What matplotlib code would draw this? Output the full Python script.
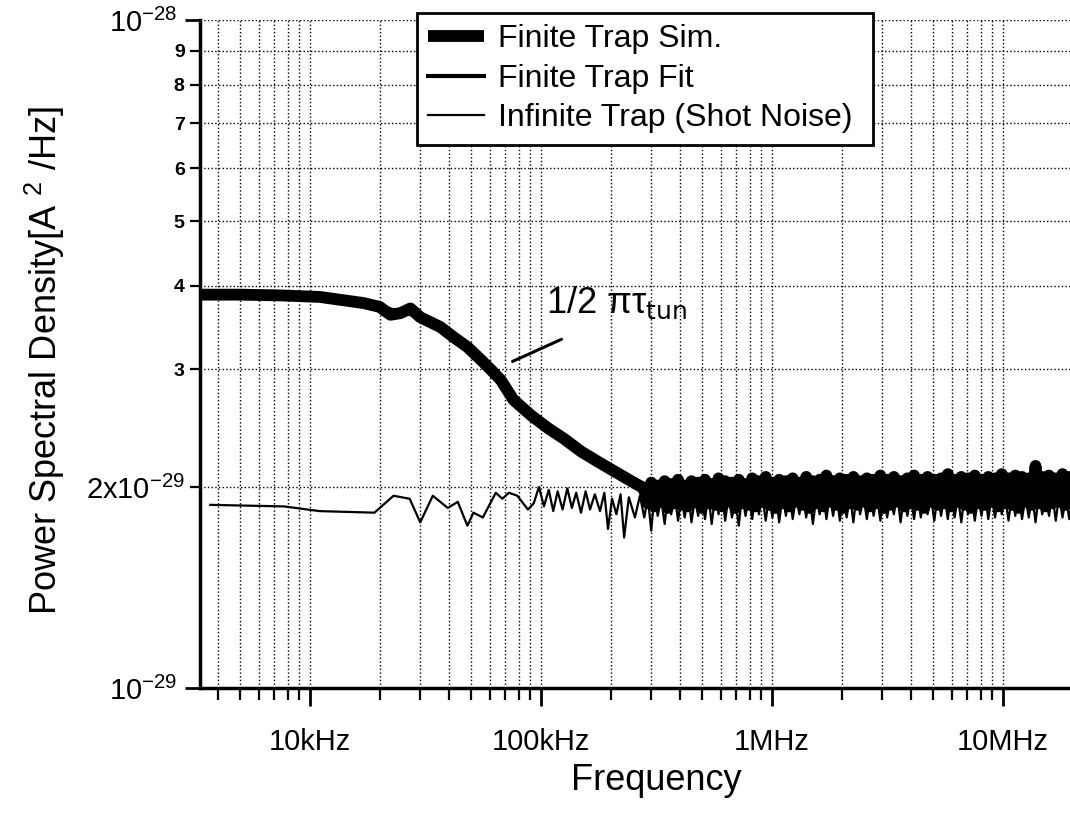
import matplotlib
matplotlib.use("Agg")
import matplotlib.pyplot as plt
from matplotlib.ticker import LogLocator, NullFormatter, FixedLocator

plt.rcParams['font.family'] = ['Liberation Sans', 'DejaVu Sans']
plt.rcParams['mathtext.default'] = 'regular'

# Finite trap simulation (smooth part), kHz and units of 1e-29 A^2/Hz
sim_khz = [3.33, 5, 7.4, 11, 17, 20, 22.3, 24.6, 27.2, 30, 36.7, 41.9, 48, 54.9,
           61, 67, 76, 90.5, 107, 126, 149, 177, 208, 240, 272]
sim_val = [3.88, 3.88, 3.87, 3.85, 3.77, 3.72, 3.62, 3.64, 3.70, 3.59, 3.47, 3.35,
           3.24, 3.10, 2.99, 2.89, 2.70, 2.56, 2.45, 2.36, 2.26, 2.18, 2.11, 2.05, 2.00]

# Noisy tail shared by the simulation and the shot-noise curve (kHz)
tail_khz = [280, 290, 300, 310, 320, 331, 343, 354,
            366, 379, 392, 405, 419, 434, 448, 464,
            479, 496, 513, 530, 548, 567, 587, 607,
            627, 649, 671, 694, 718, 742, 768, 794,
            821, 849, 878, 908, 939, 971, 1004, 1039,
            1074, 1111, 1149, 1188, 1229, 1271, 1314, 1359,
            1406, 1454, 1503, 1555, 1608, 1663, 1720, 1778,
            1839, 1902, 1967, 2034, 2104, 2176, 2250, 2327,
            2407, 2489, 2574, 2662, 2753, 2847, 2945, 3046,
            3150, 3257, 3369, 3484, 3603, 3726, 3854, 3985,
            4122, 4263, 4408, 4559, 4715, 4876, 5043, 5215,
            5394, 5578, 5769, 5966, 6170, 6381, 6599, 6825,
            7058, 7300, 7549, 7807, 8074, 8351, 8636, 8931,
            9237, 9553, 9879, 10217, 10566, 10928, 11301, 11688,
            12087, 12500, 12928, 13370, 13827, 14300, 14789, 15295,
            15818, 16359, 16918, 17497, 18095, 18714, 19354, 20016]
sim_tail = [1.98, 1.89, 2.03, 1.87, 2.01, 1.90, 2.04, 1.86,
            2.02, 1.89, 2.05, 1.88, 2.01, 1.87, 2.04, 1.90,
            2.03, 1.86, 2.05, 1.89, 2.02, 1.88, 2.06, 1.87,
            2.04, 1.90, 2.03, 1.86, 2.05, 1.89, 2.02, 1.88,
            2.06, 1.87, 2.04, 1.90, 2.07, 1.88, 2.03, 1.86,
            2.05, 1.89, 2.04, 1.87, 2.06, 1.90, 2.03, 1.88,
            2.07, 1.86, 2.04, 1.89, 2.05, 1.87, 2.08, 1.90,
            2.04, 1.88, 2.06, 1.86, 2.05, 1.89, 2.07, 1.88,
            2.04, 1.90, 2.06, 1.87, 2.05, 1.89, 2.08, 1.86,
            2.05, 1.88, 2.07, 1.90, 2.04, 1.87, 2.06, 1.89,
            2.08, 1.88, 2.05, 1.86, 2.07, 1.90, 2.05, 1.88,
            2.06, 1.89, 2.09, 1.87, 2.05, 1.90, 2.07, 1.88,
            2.06, 1.86, 2.08, 1.89, 2.05, 1.88, 2.07, 1.90,
            2.06, 1.87, 2.09, 1.89, 2.06, 1.88, 2.08, 1.86,
            2.07, 1.90, 2.06, 1.88, 2.15, 1.89, 2.07, 1.87,
            2.08, 1.89, 2.06, 1.90, 2.09, 1.88, 2.07, 1.90]

# Infinite trap (shot noise)
shot_khz = [3.7, 7.7, 11, 19, 23, 27, 30, 34, 39.5, 43.6, 48, 51, 56, 63.7, 68, 72.6,
            79, 87.8, 93, 98, 103, 108, 113, 118, 124, 130, 136, 142, 149, 156, 163,
            171, 180, 188, 195, 203, 212, 221, 229, 240, 255, 268]
shot_val = [1.88, 1.87, 1.84, 1.83, 1.94, 1.92, 1.77, 1.94, 1.86, 1.90, 1.75, 1.83,
            1.80, 1.96, 1.92, 1.96, 1.94, 1.85, 1.89, 2.00, 1.87, 1.98, 1.84, 1.97,
            1.85, 1.99, 1.86, 1.96, 1.83, 1.97, 1.85, 1.95, 1.84, 1.96, 1.73, 1.92,
            1.82, 1.95, 1.68, 1.93, 1.80, 1.94]
shot_tail = [1.80, 1.93, 1.72, 1.95, 1.81, 1.92, 1.76, 1.94,
             1.82, 1.95, 1.78, 1.93, 1.80, 1.96, 1.77, 1.92,
             1.81, 1.94, 1.79, 1.95, 1.76, 1.93, 1.82, 1.96,
             1.78, 1.94, 1.80, 1.92, 1.75, 1.95, 1.81, 1.93,
             1.79, 1.96, 1.82, 1.94, 1.78, 1.93, 1.80, 1.95,
             1.77, 1.94, 1.81, 1.96, 1.79, 1.93, 1.82, 1.95,
             1.80, 1.94, 1.76, 1.93, 1.82, 1.96, 1.79, 1.94,
             1.81, 1.95, 1.78, 1.93, 1.80, 1.94, 1.77, 1.96,
             1.82, 1.93, 1.79, 1.95, 1.81, 1.94, 1.78, 1.96,
             1.80, 1.93, 1.82, 1.95, 1.77, 1.94, 1.81, 1.93,
             1.79, 1.96, 1.80, 1.94, 1.82, 1.93, 1.78, 1.95,
             1.81, 1.94, 1.79, 1.96, 1.80, 1.93, 1.77, 1.95,
             1.82, 1.94, 1.78, 1.93, 1.81, 1.96, 1.79, 1.94,
             1.80, 1.95, 1.82, 1.93, 1.78, 1.94, 1.81, 1.96,
             1.79, 1.93, 1.80, 1.95, 1.77, 1.94, 1.82, 1.93,
             1.81, 1.95, 1.78, 1.94, 1.80, 1.93, 1.79, 1.95]

# Finite trap fit (Lorentzian)
fit_khz = [3.3, 5, 10, 15, 20, 30, 40, 50, 60, 70, 80, 100, 120, 150, 200, 300,
           500, 1000, 20000]
fit_val = [3.87, 3.86, 3.83, 3.78, 3.72, 3.60, 3.43, 3.24, 3.03, 2.86, 2.68, 2.50,
           2.39, 2.26, 2.12, 2.00, 1.97, 1.955, 1.95]

x_ticks = [1e4, 1e5, 1e6, 1e7]
x_labels = ['10kHz', '100kHz', '1MHz', '10MHz']
y_minor = [2e-29, 3e-29, 4e-29, 5e-29, 6e-29, 7e-29, 8e-29, 9e-29]
y_minor_labels = ['2x10$^{-29}$', '3', '4', '5', '6', '7', '8', '9']

fig = plt.figure(figsize=(10.7, 8.16), dpi=100)
ax = fig.add_axes([200 / 1070, 1 - 688 / 816, 870 / 1070, 668 / 816])
ax.set_xscale('log')
ax.set_yscale('log')

k = 1e3
s = 1e-29
f_sim = [f * k for f in sim_khz + tail_khz]
p_sim = [v * s for v in sim_val + sim_tail]
f_shot = [f * k for f in shot_khz + tail_khz]
p_shot = [v * s for v in shot_val + shot_tail]

l_sim, = ax.plot(f_sim, p_sim, color='black', lw=8.5, solid_joinstyle='round',
                 solid_capstyle='butt', label='Finite Trap Sim.', zorder=3)
l_fit, = ax.plot([f * k for f in fit_khz], [v * s for v in fit_val], color='black',
                 lw=3, label='Finite Trap Fit', zorder=4)
l_shot, = ax.plot(f_shot, p_shot, color='black', lw=1.6,
                  label='Infinite Trap (Shot Noise) ', zorder=5)

ax.set_xlim(3.34e3, 1.95e7)
ax.set_ylim(1e-29, 1e-28)

# x axis ticks
ax.xaxis.set_major_locator(FixedLocator(x_ticks))
ax.set_xticklabels(x_labels)
ax.xaxis.set_minor_locator(LogLocator(base=10, subs=[2, 3, 4, 5, 6, 7, 8, 9], numticks=20))
ax.xaxis.set_minor_formatter(NullFormatter())
ax.tick_params(axis='x', which='major', direction='out', length=13, width=2,
               labelsize=21, pad=16)
ax.tick_params(axis='x', which='minor', direction='out', length=8.5, width=1.6)

# y axis ticks
ax.set_yticks([1e-29, 1e-28], labels=['$10^{-29}$', '$10^{-28}$'])
ax.set_yticks(y_minor, labels=y_minor_labels, minor=True)
ax.tick_params(axis='y', which='major', direction='out', length=11, width=2,
               labelsize=21, pad=5)
ax.tick_params(axis='y', which='minor', direction='out', length=7, width=1.6,
               labelsize=14, pad=4)
for t in ax.get_yticklabels(minor=True):
    if t.get_text().startswith('2x'):
        t.set_fontsize(21)
    else:
        t.set_fontweight('bold')

ax.grid(True, which='both', color='black', linestyle=':', lw=1)
ax.set_axisbelow(True)

for side in ['top', 'right']:
    ax.spines[side].set_visible(False)
for side in ['left', 'bottom']:
    ax.spines[side].set_linewidth(2.5)

ax.set_xlabel('Frequency', fontsize=26)
ax.xaxis.set_label_coords(0.524, -0.112)
ax.set_ylabel('Power Spectral Density[A $^{2}$ /Hz]', fontsize=26)
ax.yaxis.set_label_coords(-0.153, 0.49)

# annotation for the corner frequency
ax.annotate('', xy=(73.4e3, 3.07e-29), xytext=(125.8e3, 3.34e-29),
            arrowprops=dict(arrowstyle='-', color='black', lw=2.2), zorder=6)
ax.text(105e3, 3.64e-29, r'1/2 $\pi\tau_{\rm tun}$', fontsize=26, ha='left',
        va='baseline', zorder=6)

leg = ax.legend(handles=[l_sim, l_fit, l_shot], loc='upper left',
                bbox_to_anchor=(417 / 1070, 1 - 13 / 816), bbox_transform=fig.transFigure,
                borderaxespad=0, fontsize=23, handlelength=1.75, handletextpad=0.45,
                labelspacing=0.3, borderpad=0.35, fancybox=False, framealpha=1,
                edgecolor='black')
leg.get_frame().set_linewidth(2)
leg.set_zorder(10)

fig.savefig('out.png', dpi=100)
